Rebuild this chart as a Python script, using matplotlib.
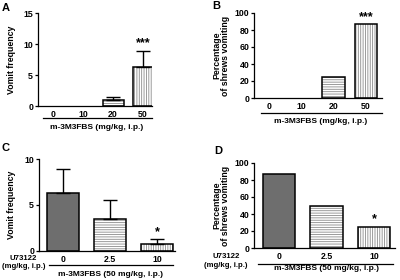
import matplotlib
matplotlib.use("Agg")
import matplotlib.pyplot as plt
from matplotlib.lines import Line2D

plt.rcParams["font.family"] = ["Liberation Sans", "DejaVu Sans"]
plt.rcParams["font.weight"] = "bold"
plt.rcParams["axes.labelweight"] = "bold"
plt.rcParams["hatch.linewidth"] = 0.6

# data
dose_ab = ["0", "10", "20", "50"]
vomit_a = [0, 0, 0.95, 6.25]
vomit_a_err = [0, 0, 0.55, 2.6]
pct_b = [0, 0, 25, 87.5]

dose_cd = ["0", "2.5", "10"]
vomit_c = [6.35, 3.5, 0.75]
vomit_c_err = [2.55, 2.0, 0.5]
pct_d = [87.5, 50, 25]

W, H = 400, 280
fig = plt.figure(figsize=(4, 2.8), dpi=100)


def add_ax(l, r, t, b):
    return fig.add_axes([l / W, 1 - b / H, (r - l) / W, (b - t) / H])


def fig_line(x0, x1, y):
    fig.add_artist(Line2D([x0 / W, x1 / W], [1 - y / H, 1 - y / H],
                          color="black", lw=0.9, transform=fig.transFigure))


def fig_text(x, y, s, size=6):
    fig.text(x / W, 1 - y / H, s, ha="center", va="center", fontsize=size)


def style(ax):
    for s in ["top", "right"]:
        ax.spines[s].set_visible(False)
    for s in ["left", "bottom"]:
        ax.spines[s].set_linewidth(0.9)
    ax.tick_params(axis="y", direction="out", length=2.5, width=0.9,
                   labelsize=6.3, pad=1)
    ax.tick_params(axis="x", length=0, labelsize=6.3, pad=3)


hatches = {"dark": "", "h": "-------", "v": "|||||||"}
fills = {"dark": "#6e6e6e", "h": "white", "v": "white"}


def bars(ax, vals, kinds, width):
    for i, (v, k) in enumerate(zip(vals, kinds)):
        if v == 0:
            continue
        ax.bar(i, v, width, color=fills[k], edgecolor="#8a8a8a",
               hatch=hatches[k], linewidth=0)
        ax.bar(i, v, width, fill=False, edgecolor="black", linewidth=1.1)


def errs(ax, vals, err):
    for i, (v, e) in enumerate(zip(vals, err)):
        if e > 0:
            ax.errorbar(i, v, yerr=[[0], [e]], fmt="none", ecolor="black",
                        elinewidth=1.0, capsize=5, capthick=1.0)


# A
ax = add_ax(38, 152, 13.3, 106)
bars(ax, vomit_a, ["h", "h", "h", "v"], 0.7)
errs(ax, vomit_a, vomit_a_err)
ax.set_xlim(-0.5, 3.3)
ax.set_ylim(0, 15)
ax.set_yticks([0, 5, 10, 15])
ax.set_xticks(range(4))
ax.set_xticklabels(dose_ab)
ax.set_ylabel("Vomit frequency", fontsize=6.3, labelpad=5)
ax.text(3, 9.2, "***", ha="center", va="bottom", fontsize=9)
style(ax)
fig_line(43, 152, 118.3)
fig_text(97, 128, "m-3M3FBS (mg/kg, i.p.)")

# B
ax = add_ax(254, 382, 13, 98)
bars(ax, pct_b, ["h", "h", "h", "v"], 0.7)
ax.set_xlim(-0.47, 3.5)
ax.set_ylim(0, 100)
ax.set_yticks(range(0, 101, 20))
ax.set_xticks(range(4))
ax.set_xticklabels(dose_ab)
ax.set_ylabel("Percentage\nof shrews vomiting", fontsize=6.3, labelpad=3,
              linespacing=1.0)
ax.text(3, 88.5, "***", ha="center", va="bottom", fontsize=9)
style(ax)
fig_line(261, 382, 113)
fig_text(321, 121.5, "m-3M3FBS (mg/kg, i.p.)")

# C
ax = add_ax(39, 175, 159.3, 250.7)
bars(ax, vomit_c, ["dark", "h", "v"], 0.69)
errs(ax, vomit_c, vomit_c_err)
ax.set_xlim(-0.51, 2.38)
ax.set_ylim(0, 10)
ax.set_yticks([0, 5, 10])
ax.set_xticks(range(3))
ax.set_xticklabels(dose_cd)
ax.set_ylabel("Vomit frequency", fontsize=6.3, labelpad=6)
ax.text(2, 1.4, "*", ha="center", va="bottom", fontsize=9)
style(ax)
fig_text(23, 258.5, "U73122", 5.6)
fig_text(24, 267, "(mg/kg, i.p.)", 5.6)
fig_line(49, 173, 265)
fig_text(110, 274, "m-3M3FBS (50 mg/kg, i.p.)")

# D
ax = add_ax(254, 395, 163, 248)
bars(ax, pct_d, ["dark", "h", "v"], 0.68)
ax.set_xlim(-0.53, 2.44)
ax.set_ylim(0, 100)
ax.set_yticks(range(0, 101, 20))
ax.set_xticks(range(3))
ax.set_xticklabels(dose_cd)
ax.set_ylabel("Percentage\nof shrews vomiting", fontsize=6.3, labelpad=3,
              linespacing=1.0)
ax.text(2, 27, "*", ha="center", va="bottom", fontsize=9)
style(ax)
fig_text(226, 257, "U73122", 5.6)
fig_text(226, 265.5, "(mg/kg, i.p.)", 5.6)
fig_line(258, 393, 264)
fig_text(326, 269, "m-3M3FBS (50 mg/kg, i.p.)")

# panel letters
for x, y, s in [(6, 8, "A"), (216, 6, "B"), (6, 148, "C"), (218, 151, "D")]:
    fig.text(x / W, 1 - y / H, s, ha="center", va="center", fontsize=8,
             fontweight="bold")

fig.savefig("out.png", dpi=100)
